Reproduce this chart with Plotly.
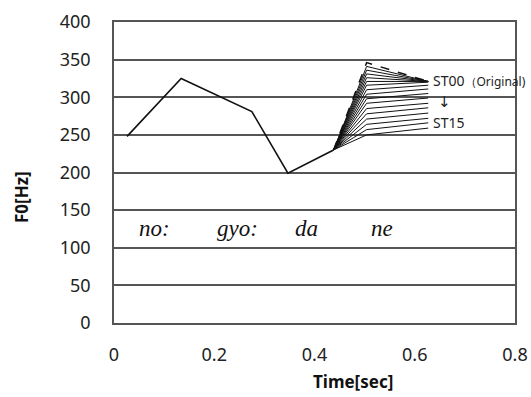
import plotly.graph_objects as go

# Main F0 contour (no: gyo: da)
base_t = [0.026, 0.134, 0.275, 0.347, 0.438]
base_f0 = [248, 325, 281, 199, 230]

# Final syllable "ne" stimuli: onset, peak, end times
ne_t = [0.438, 0.504, 0.627]
orig_peak = 346
orig_end = 321
st_peak = [341, 336, 331, 326, 321, 316, 310, 304, 298, 292, 285, 278, 271, 264, 257, 250]
st_end = [321, 321, 321, 321, 321, 320, 316, 311, 305, 299, 292, 286, 279, 272, 266, 259]

x_ticks = [0, 0.2, 0.4, 0.6, 0.8]
x_tick_text = ["0", "0.2", "0.4", "0.6", "0.8"]
y_ticks = [0, 50, 100, 150, 200, 250, 300, 350, 400]

syllables = ["no:", "gyo:", "da", "ne"]
syll_t = [0.046, 0.202, 0.357, 0.509]
syll_y = 126

fig = go.Figure()
fig.add_trace(go.Scatter(x=base_t, y=base_f0, mode="lines",
                         line=dict(color="#111111", width=1.6), showlegend=False))
for p, e in zip(st_peak, st_end):
    fig.add_trace(go.Scatter(x=ne_t, y=[base_f0[-1], p, e], mode="lines",
                             line=dict(color="#111111", width=1), showlegend=False))
fig.add_trace(go.Scatter(x=ne_t, y=[base_f0[-1], orig_peak, orig_end], mode="lines",
                         line=dict(color="#111111", width=1.5, dash="dash"), showlegend=False))

for s, t in zip(syllables, syll_t):
    fig.add_annotation(x=t, y=syll_y, text="<i>" + s + "</i>", showarrow=False, xanchor="left",
                       font=dict(family="Liberation Serif", size=23, color="#111111"),
                       xref="x", yref="y")

lab_font = dict(family="Noto Sans", size=14, color="#222222")
fig.add_annotation(x=0.632, y=322, xanchor="left", showarrow=False, xref="x", yref="y",
                   text="ST00<span style='font-size:12px'>（Original)</span>", font=lab_font)
fig.add_annotation(x=0.643, y=294, xanchor="left", showarrow=False, xref="x", yref="y",
                   text="↓", font=dict(family="DejaVu Sans", size=15, color="#222222"))
fig.add_annotation(x=0.632, y=266, xanchor="left", showarrow=False, xref="x", yref="y",
                   text="ST15", font=lab_font)

fig.add_annotation(x=0.596, y=-0.196, xref="paper", yref="paper", showarrow=False,
                   yanchor="middle", text="<b>Time[sec]</b>",
                   font=dict(family="Noto Sans", size=17, color="#111111"))
fig.add_annotation(x=-0.229, y=0.419, xref="paper", yref="paper", showarrow=False,
                   textangle=-90, yanchor="middle", xanchor="center", text="<b>F0[Hz]</b>",
                   font=dict(family="Noto Sans", size=17, color="#111111"))

fig.update_layout(
    width=531, height=397,
    margin=dict(l=114, r=16, t=22, b=74, autoexpand=False),
    paper_bgcolor="white", plot_bgcolor="white",
    showlegend=False,
    font=dict(family="Noto Sans", size=18, color="#222222"),
)
fig.update_xaxes(range=[0, 0.8], tickvals=x_ticks, ticktext=x_tick_text, automargin=False,
                 showgrid=False, zeroline=False, showline=True, mirror=True,
                 linecolor="#555555", linewidth=1.5, ticks="", ticklabelstandoff=15,
                 tickfont=dict(size=18, color="#222222"))
fig.update_yaxes(range=[0, 400], tickvals=y_ticks, automargin=False,
                 showgrid=True, gridcolor="#555555", gridwidth=1.5,
                 zeroline=False, showline=True, mirror=True,
                 linecolor="#555555", linewidth=1.5, ticks="", ticklabelstandoff=18,
                 tickfont=dict(size=18, color="#222222"))

fig.write_html("out.html", config={"displayModeBar": False},
               post_script="document.body.style.margin='0';document.body.style.overflow='hidden';")
